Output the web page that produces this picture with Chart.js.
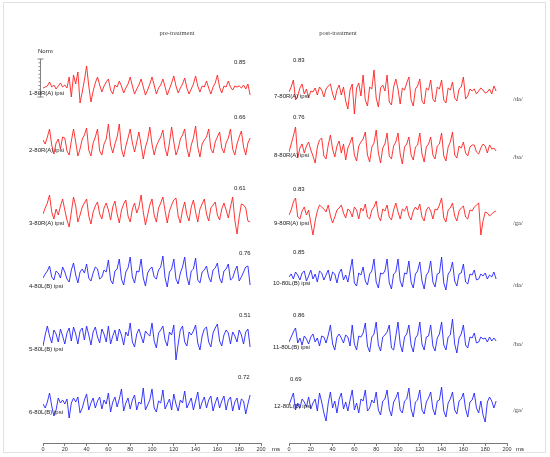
<!DOCTYPE html>
<html lang="en">
<head>
<meta charset="UTF-8">
<title>Pre / post treatment waveforms</title>
<style>
  html, body { margin: 0; padding: 0; background: #fff; }
  #wrap { position: relative; width: 550px; height: 457px; overflow: hidden; }
  #frame { position: absolute; left: 3px; top: 2px; width: 543px; height: 451px; border: 1px solid #e2e2e2; box-sizing: border-box; }
  canvas { position: absolute; top: 0; }
  .txt { position: absolute; white-space: nowrap; line-height: 1; transform: translateY(-50%); color: #222; }
  .sans { font-family: "Liberation Sans", Arial, sans-serif; font-size: 6px; }
  .serif { font-family: "Liberation Serif", "DejaVu Serif", serif; font-size: 6.5px; color: #444; }
</style>
</head>
<body>
<div id="wrap">
  <div id="frame"></div>
  <canvas id="leftPanel" width="275" height="457" style="left:0"></canvas>
  <canvas id="rightPanel" width="275" height="457" style="left:275px"></canvas>
</div>

<script src="https://cdn.jsdelivr.net/npm/chart.js"></script>
<script>
// time samples (ms), shared by all traces
const timeMs = [
  0, 2, 4, 6, 8, 10, 12, 14, 16, 18,
  20, 22, 24, 26, 28, 30, 32, 34, 36, 38,
  40, 42, 44, 46, 48, 50, 52, 54, 56, 58,
  60, 62, 64, 66, 68, 70, 72, 74, 76, 78,
  80, 82, 84, 86, 88, 90, 92, 94, 96, 98,
  100, 102, 104, 106, 108, 110, 112, 114, 116, 118,
  120, 122, 124, 126, 128, 130, 132, 134, 136, 138,
  140, 142, 144, 146, 148, 150, 152, 154, 156, 158,
  160, 162, 164, 166, 168, 170, 172, 174, 176, 178,
  180, 182, 184, 186, 188, 190
];
const xTickValues = [0, 20, 40, 60, 80, 100, 120, 140, 160, 180, 200];

// pre-treatment traces (normalised amplitude)
const trace01 = [0,1,2,6,1,3,-1,2,5,1, 3,0,11,-9,13,4,16,-15,-4,8, 22,2,-14,-3,5,11,3,-4,2,6, 9,-2,-6,3,1,7,2,-5,0,4,
  11,2,-6,-1,3,9,1,-7,-2,4, 11,3,-6,0,3,9,1,-7,-1,5, 12,2,-5,0,4,10,0,-6,-1,4, 12,2,-4,2,1,7,0,-6,1,5,
  13,1,-5,2,1,7,1,-2,2,1, 2,0,3,-1,4,-7];
const trace02 = [7,3,10,18,2,-7,4,8,-2,10, 9,-4,-8,6,18,5,-9,-2,8,12, 19,-3,-9,4,10,18,-4,-8,3,8, 23,2,-6,3,10,23,-2,-10,1,9,
  18,4,-5,5,15,2,-12,0,7,20, 3,-8,1,6,10,17,-1,-9,4,20, 5,-8,-2,8,12,18,-1,-10,2,9, 21,0,-10,3,7,10,18,-2,-6,5,
  10,15,-1,-6,4,9,18,-2,-8,3, 10,16,0,-8,4,9];
const trace03 = [-2,4,9,17,0,-7,3,-3,6,13, 2,-8,-15,0,15,6,-10,-3,5,9, 13,-4,-12,0,6,10,-2,-7,4,9, 2,-8,5,11,-2,-11,2,8,12,-4,
  -10,3,9,-1,5,17,0,-13,-3,7, 13,-3,-10,4,9,15,1,-11,1,7, 12,14,-4,-11,2,10,-3,-9,5,12, 0,-10,3,8,13,-2,-9,4,7,10,
  -3,-8,3,9,2,-6,5,15,-8,-22, -5,8,7,4,-9,-10];
const trace04 = [-3,1,4,9,-2,-5,4,2,-3,8, 3,-4,-7,5,12,0,-8,3,6,2, 11,-3,-6,2,8,6,-4,-2,5,3, 15,-5,-9,4,6,16,-4,-10,3,7,
  18,-2,-8,4,3,16,-3,-11,2,6, 8,-2,-4,5,8,19,-3,-12,3,6, 16,-4,-9,2,8,18,-2,-10,4,6, 17,-5,-8,3,5,9,-2,-7,5,7,
  12,-3,-8,4,6,11,-5,-3,4,9, -6,-2,3,8,9,-10];
const trace05 = [-8,3,12,2,-5,8,4,-4,9,2, -6,5,10,-3,11,4,-6,7,10,-2, 12,3,-7,6,11,1,-5,9,4,-4, 12,-6,2,8,-3,9,3,-7,6,2,
  15,-4,-9,4,9,2,-5,7,4,2, 15,-3,-10,5,8,12,-2,-8,6,3, 13,-22,-6,8,12,-4,-8,6,3,7, 13,-5,-12,2,9,11,-4,-9,5,10,
  14,-3,-8,3,8,5,-6,6,2,-4, 8,3,-6,6,9,-9];
const trace06 = [2,-2,4,13,0,-10,-4,8,3,6, 2,7,-12,3,8,4,9,-7,-2,6, 12,-4,3,8,-2,5,9,-3,6,2, 13,-6,4,9,-1,7,17,-5,3,8,
  -3,6,11,-4,4,2,18,-4,1,6, 17,-2,-6,5,3,16,-3,2,7,-4, 12,2,-5,6,3,15,-2,3,8,-4, 5,14,-3,4,9,-2,6,10,-5,3,
  9,-2,5,10,-4,6,9,-5,4,8, -4,7,5,-8,2,11];

// post-treatment traces
const trace07 = [0,5,12,-8,-4,4,8,-2,3,-6, 1,0,4,-3,5,2,-5,3,6,8, -2,-8,2,7,-3,5,-9,-17,2,8, -22,4,9,-4,17,-8,-14,5,3,22,
  -6,-15,4,7,1,17,-10,-13,5,13, 3,-12,4,2,9,15,-8,-14,3,6, 13,-9,-12,4,2,12,-7,-10,5,3, 12,-8,-11,4,2,10,-6,-9,3,5,
  15,-7,-4,3,1,3,-2,1,4,2, -1,0,3,-2,6,1];
const trace08 = [-2,6,14,23,-8,2,6,-3,4,8, 0,-6,-13,3,10,12,-6,-9,5,15, 1,-7,4,9,-3,6,-10,2,7,13, -5,-11,4,8,11,18,-5,-12,3,7,
  20,-3,-13,2,6,17,-6,-9,4,8, 17,-4,-14,3,6,13,-5,-10,3,5, 17,-4,-12,3,6,13,-5,-9,4,6, 17,-6,-11,3,8,18,-5,-8,4,2,
  8,-3,-6,3,5,5,-2,-4,2,6, 4,-3,5,1,2,-1];
const trace09 = [-2,3,11,15,-4,-6,2,6,-2,3, -10,-22,-8,2,8,6,4,1,8,-3, -10,-4,3,5,8,0,-5,4,2,-4, 6,3,-6,5,2,9,-4,-6,3,6,
  12,-3,-8,4,2,8,-4,-7,3,10, 1,-6,4,2,7,-3,-7,2,6,3, 9,-4,-8,3,6,2,-6,4,3,8, 15,-5,-9,3,5,10,-3,-8,2,5,
  7,-4,-6,3,2,6,8,10,-22,-8, 1,0,-3,-1,1,2];
const trace10 = [0,3,-2,5,2,-3,4,6,-4,1, 7,-2,3,-5,6,4,-3,2,7,-4, 5,3,-6,4,8,-3,2,-5,6,18, -6,-9,4,2,10,-4,-8,3,6,18,
  -5,-11,4,3,6,18,-6,-12,3,5, 18,-4,-10,4,3,16,-5,-11,3,6, 15,-4,-12,2,5,16,-5,-10,3,4, 20,-6,-13,3,6,15,-4,-9,3,4,
  13,-5,-7,3,2,7,-3,-2,3,1, 4,-2,2,0,5,-2];
const trace11 = [-2,3,8,12,-3,2,-5,4,1,-4, 3,6,-2,2,-6,4,3,-3,5,15, -4,-10,3,6,2,-3,5,3,-6,15, -4,-10,4,3,7,17,-6,-12,3,6,
  18,-5,-11,3,5,8,15,-8,-10,4, 18,-4,-12,3,6,15,-5,-12,2,5, 18,-4,-10,3,4,15,-6,-11,2,6, 18,-5,-10,3,5,21,-4,-13,2,6,
  15,-5,-8,3,2,7,-3,-2,3,1, 2,-2,3,-1,2,-1];
const trace12 = [0,6,12,-5,2,-3,6,3,-2,8, -4,2,6,-6,12,3,-8,-16,2,13, -3,4,-8,6,12,-4,3,-6,5,15, -5,2,-8,6,4,15,-6,-3,5,2,
  13,-5,-10,4,6,15,-4,-11,3,7, 13,-5,-8,4,6,17,-4,-12,3,5, 15,-5,-9,3,7,13,-4,-10,4,5, 18,-6,-12,2,6,13,-5,-9,4,6,
  12,-4,-12,3,5,12,-3,-8,4,-10, -17,3,8,4,-3,4];

const traceLabels = ['1-80R(A) ipsi', '2-80R(A) ipsi', '3-80R(A) ipsi', '4-80L(B) ipsi', '5-80L(B) ipsi', '6-80L(B) ipsi',
  '7-80R(A) ipsi', '8-80R(A) ipsi', '9-80R(A) ipsi', '10-80L(B) ipsi', '11-80L(B) ipsi', '12-80L(B) ipsi'];
const corrValues = ['0.85', '0.66', '0.61', '0.76', '0.51', '0.72', '0.83', '0.76', '0.83', '0.85', '0.86', '0.69'];
const syllables = ['/da/', '/ba/', '/ga/', '/da/', '/ba/', '/ga/'];
const panelTitles = ['pre-treatment', 'post-treatment'];

// layout (page pixels)
const AREA_TOP = 50, AREA_BOTTOM = 443, X_AXIS_H = 11;
const leftBaselines = [88, 147, 212, 275, 338, 406];
const rightBaselines = [92, 150, 213, 277, 340, 405];
const RED = '#ff2020', BLUE = '#2424ff';
const rowColors = [RED, RED, RED, BLUE, BLUE, BLUE];
const sansFont = '"Liberation Sans", Arial, sans-serif';

// small "Norm" scale bar next to the first trace
const normBar = {
    id: 'normBar',
    afterDraw(chart) {
        const y = chart.scales.y0;
        const top = y.getPixelForValue(29), bottom = y.getPixelForValue(-9);
        const x = 40.5;
        const c = chart.ctx;
        c.save();
        c.strokeStyle = '#666';
        c.lineWidth = 0.8;
        c.beginPath();
        c.moveTo(x, top); c.lineTo(x, bottom);
        c.moveTo(37.5, top); c.lineTo(43.5, top);
        c.moveTo(37.5, bottom); c.lineTo(43.5, bottom);
        for (let i = 1; i < 10; i++) {
            const yy = top + (bottom - top) * i / 10;
            c.moveTo(38.5, yy); c.lineTo(x, yy);
        }
        c.stroke();
        c.restore();
    }
};

function makePanel(canvasId, series, baselines, padLeft, padRight, extraPlugins) {
    const scales = {
        x: {
            type: 'linear', position: 'bottom', min: 0, max: 200,
            afterBuildTicks: s => { s.ticks = xTickValues.map(v => ({ value: v })); },
            afterFit: s => { s.height = X_AXIS_H; },
            grid: { display: true, drawOnChartArea: false, drawTicks: true, tickLength: 3, color: '#555', lineWidth: 0.8 },
            border: { display: true, color: '#555', width: 0.8 },
            ticks: { font: { family: sansFont, size: 5.5 }, color: '#333', padding: 0, maxRotation: 0, autoSkip: false }
        }
    };
    series.forEach((vals, i) => {
        scales['y' + i] = {
            type: 'linear', axis: 'y', position: 'left', display: false,
            min: -(AREA_BOTTOM - baselines[i]), max: baselines[i] - AREA_TOP
        };
    });
    const datasets = series.map((vals, i) => ({
        data: timeMs.map((t, j) => ({ x: t, y: vals[j] })),
        yAxisID: 'y' + i,
        borderColor: rowColors[i],
        borderWidth: 0.9,
        pointRadius: 0,
        fill: false,
        tension: 0
    }));
    const ctx = document.getElementById(canvasId).getContext('2d');
    return new Chart(ctx, {
        type: 'line',
        data: { datasets: datasets },
        options: {
            responsive: false,
            animation: false,
            plugins: { legend: { display: false }, tooltip: { enabled: false } },
            layout: { padding: { left: padLeft, right: padRight, top: AREA_TOP, bottom: 457 - AREA_BOTTOM - X_AXIS_H } },
            scales: scales
        },
        plugins: extraPlugins
    });
}

makePanel('leftPanel', [trace01, trace02, trace03, trace04, trace05, trace06], leftBaselines, 43, 14, [normBar]);
makePanel('rightPanel', [trace07, trace08, trace09, trace10, trace11, trace12], rightBaselines, 14, 43, []);

// text
const wrap = document.getElementById('wrap');
function addText(text, x, y, cls, center) {
    const d = document.createElement('div');
    d.className = 'txt ' + cls;
    d.textContent = text;
    d.style.left = x + 'px';
    d.style.top = y + 'px';
    if (center) d.style.transform = 'translate(-50%, -50%)';
    wrap.appendChild(d);
}

addText(panelTitles[0], 177, 33, 'serif', true);
addText(panelTitles[1], 338, 33, 'serif', true);
addText('Norm', 38, 51, 'sans', false);

const labelX = [29, 29, 29, 29, 29, 29, 274, 274, 274, 273, 273, 274];
const labelY = [93, 149.5, 223, 286, 349, 412, 95.7, 154.7, 223, 282.7, 347, 406];
const corrX = [234, 234, 234, 239, 239, 238, 293, 293, 293, 293, 293, 290];
const corrY = [62, 117, 187.7, 252.7, 314.7, 377, 60, 117, 188.7, 251.7, 314.7, 379];
const sylY = [99, 156.5, 223, 285, 344, 410];

traceLabels.forEach((t, i) => addText(t, labelX[i], labelY[i], 'sans', false));
corrValues.forEach((t, i) => addText(t, corrX[i], corrY[i], 'sans', false));
syllables.forEach((t, i) => addText(t, 513, sylY[i], 'serif', false));
addText('ms', 272, 449, 'sans', false);
addText('ms', 516, 449, 'sans', false);
</script>
</body>
</html>
